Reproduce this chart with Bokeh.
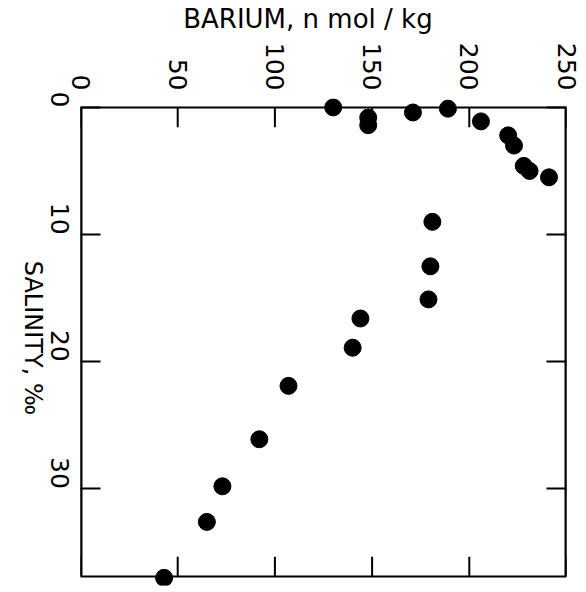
import math
from bokeh.plotting import figure
from bokeh.models import LinearAxis, Range1d, FixedTicker, BoxAnnotation
from bokeh.embed import file_html
from bokeh.resources import INLINE

barium = [130, 148, 148, 171, 189, 206, 220, 223, 228, 231, 241,
          181, 180, 179, 144, 140, 107, 92, 73, 65, 43]
salinity = [0.0, 0.8, 1.4, 0.4, 0.1, 1.1, 2.2, 3.0, 4.6, 5.0, 5.5,
            9.0, 12.5, 15.1, 16.6, 18.9, 21.9, 26.1, 29.8, 32.6, 37.0]
x_ticks = [0, 50, 100, 150, 200, 250]
y_ticks = [0, 10, 20, 30]
x_title = "BARIUM, n mol / kg"
y_title = "SALINITY, ‰"
x_min, x_max = 0, 250
s_min, s_max = 0, 36.9

FONT = "DejaVu Sans"
PAD = 0.7            # room (salinity units) so the edge dots are not cut
X_TITLE_AT = 117     # where the title sits along the barium axis
Y_TITLE_AT = 24.2    # where the title ends along the salinity axis

p = figure(width=586, height=592, output_backend="svg", toolbar_location=None,
           x_range=Range1d(x_min, x_max), y_range=Range1d(s_max + PAD, s_min - PAD),
           x_axis_location="above", min_border_left=80, min_border_top=94,
           min_border_right=20, min_border_bottom=7)
p.grid.visible = False
p.outline_line_color = None


def bare(ax):
    ax.axis_line_color = None
    ax.major_tick_line_color = None
    ax.minor_tick_line_color = None
    ax.major_label_text_color = "black"
    ax.major_label_text_font = FONT
    ax.major_label_orientation = -math.pi / 2


top = p.xaxis[0]
bare(top)
top.ticker = FixedTicker(ticks=x_ticks)
top.major_label_text_font_size = "25px"
top.major_label_standoff = 2

tx = LinearAxis(ticker=FixedTicker(ticks=[X_TITLE_AT]),
                major_label_overrides={X_TITLE_AT: x_title})
bare(tx)
tx.major_label_orientation = "horizontal"
tx.major_label_text_font_size = "26px"
tx.major_label_standoff = 0
p.add_layout(tx, "above")


def yaxis_style(ax, labels):
    bare(ax)
    ax.ticker = FixedTicker(ticks=y_ticks)
    ax.major_tick_in = 20
    ax.major_tick_out = 0
    ax.major_tick_line_width = 2
    ax.major_tick_line_color = "black"
    ax.major_label_text_font_size = "25px" if labels else "0px"
    if not labels:
        ax.major_label_text_color = None


yaxis_style(p.yaxis[0], True)
p.yaxis[0].major_label_standoff = 21
ry = LinearAxis()
yaxis_style(ry, False)
ry.major_label_standoff = 0
p.add_layout(ry, "right")

ty = LinearAxis(ticker=FixedTicker(ticks=[Y_TITLE_AT]),
                major_label_overrides={Y_TITLE_AT: y_title})
bare(ty)
ty.major_label_text_font_size = "24px"
ty.major_label_standoff = 0
p.add_layout(ty, "left")

p.add_layout(BoxAnnotation(left=x_min, right=x_max, top=s_min, bottom=s_max,
                           fill_color=None, line_color="black", line_alpha=1.0,
                           line_width=2))
p.segment(x0=[x_min, x_max], x1=[x_min, x_max], y0=[s_min, s_min], y1=[s_max, s_max],
          line_color="black", line_width=4)

tick_len = 20 / (473 / (s_max - s_min))
n = len(x_ticks)
p.segment(x0=x_ticks, x1=x_ticks, y0=[s_min] * n, y1=[s_min + tick_len] * n,
          line_color="black", line_width=2)
p.segment(x0=x_ticks, x1=x_ticks, y0=[s_max] * n, y1=[s_max - tick_len] * n,
          line_color="black", line_width=2)

p.scatter(barium, salinity, size=17, color="black")

open("out.html", "w").write(file_html(p, INLINE))
